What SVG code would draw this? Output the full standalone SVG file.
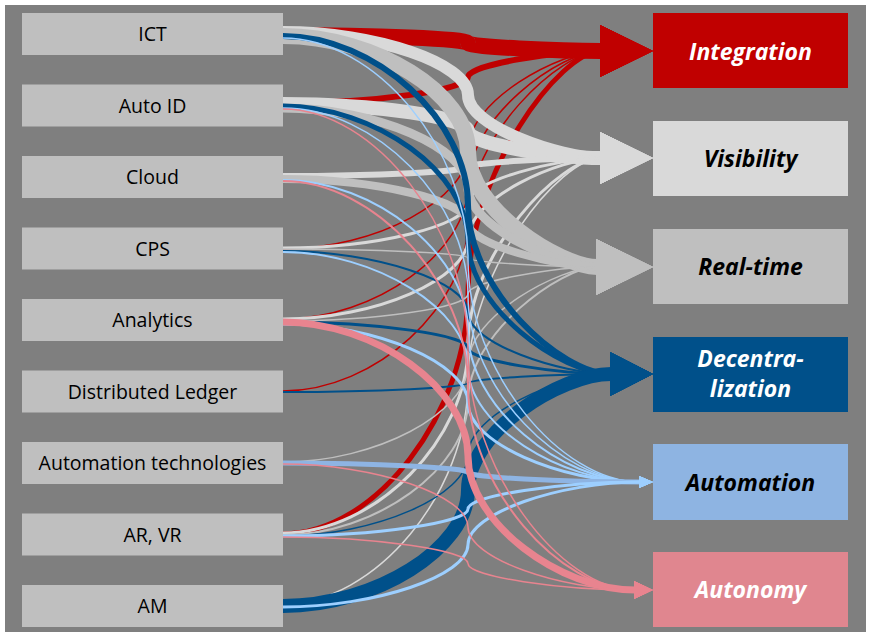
<svg xmlns="http://www.w3.org/2000/svg" width="871" height="636" viewBox="0 0 871 636">
<style>
.src rect{fill:#BFBFBF}
.src text{font-family:"Open Sans","Liberation Sans",sans-serif;font-size:19.5px;fill:#000;text-anchor:middle}
.tgt text{font-family:"Open Sans","Liberation Sans",sans-serif;font-size:23px;font-weight:bold;font-style:italic;text-anchor:middle}
#connectors path{fill:none}
.cI{stroke:#C00000;marker-end:url(#mI)}
.cV{stroke:#D9D9D9;marker-end:url(#mV)}
.cR{stroke:#BFBFBF;marker-end:url(#mR)}
.cD{stroke:#00508A;marker-end:url(#mD)}
.cA{stroke:#9DCFFF;marker-end:url(#mA)}
.cN{stroke:#E8848F;marker-end:url(#mN)}
</style>
<defs>
<marker id="mI" markerUnits="userSpaceOnUse" markerWidth="53" markerHeight="52" refX="1" refY="26" orient="auto"><path d="M0,0 L53,26 L0,52 z" fill="#C00000"/></marker>
<marker id="mV" markerUnits="userSpaceOnUse" markerWidth="53" markerHeight="52" refX="1" refY="26" orient="auto"><path d="M0,0 L53,26 L0,52 z" fill="#D9D9D9"/></marker>
<marker id="mR" markerUnits="userSpaceOnUse" markerWidth="57" markerHeight="56" refX="1" refY="28" orient="auto"><path d="M0,0 L57,28 L0,56 z" fill="#BFBFBF"/></marker>
<marker id="mD" markerUnits="userSpaceOnUse" markerWidth="43" markerHeight="44" refX="1" refY="22" orient="auto"><path d="M0,0 L43,22 L0,44 z" fill="#00508A"/></marker>
<marker id="mA" markerUnits="userSpaceOnUse" markerWidth="14" markerHeight="12" refX="1" refY="6" orient="auto"><path d="M0,0 L14,6 L0,12 z" fill="#9DCFFF"/></marker>
<marker id="mN" markerUnits="userSpaceOnUse" markerWidth="19" markerHeight="18" refX="1" refY="9" orient="auto"><path d="M0,0 L19,9 L0,18 z" fill="#E8848F"/></marker>
</defs>
<rect x="0" y="0" width="871" height="636" fill="#FFFFFF"/>
<rect x="5" y="5" width="861" height="627" fill="#7F7F7F"/>

<g id="connectors">
<!-- Integration -->
<path class="cI" stroke-width="16" d="M283,35 C375.5,35 468,39 468,43 C468,47 560.5,51 601,51"/>
<path class="cI" stroke-width="6" d="M283,103 C375.5,103 468,90 468,77 C468,64 560.5,51 601,51"/>
<path class="cI" stroke-width="1.5" d="M283,249 C375.5,249 468,199.5 468,150 C468,100.5 560.5,51 601,51"/>
<path class="cI" stroke-width="1.5" d="M283,319 C375.5,319 468,252 468,185 C468,118 560.5,51 601,51"/>
<path class="cI" stroke-width="1.5" d="M283,391 C375.5,391 468,306 468,221 C468,136 560.5,51 601,51"/>
<path class="cI" stroke-width="5" d="M283,534 C375.5,534 468,413.25 468,292.5 C468,171.75 560.5,51 601,51"/>
<!-- Visibility -->
<path class="cV" stroke-width="12" d="M283,32 C375.5,32 468,63.5 468,95 C468,126.5 560.5,158 601,158"/>
<path class="cV" stroke-width="14" d="M283,104 C375.5,104 468,117.5 468,131 C468,144.5 560.5,158 601,158"/>
<path class="cV" stroke-width="6" d="M283,176 C375.5,176 468,171.5 468,167 C468,162.5 560.5,158 601,158"/>
<path class="cV" stroke-width="3" d="M283,248 C375.5,248 468,225.5 468,203 C468,180.5 560.5,158 601,158"/>
<path class="cV" stroke-width="3" d="M283,319 C375.5,319 468,278.75 468,238.5 C468,198.25 560.5,158 601,158"/>
<path class="cV" stroke-width="3" d="M283,533 C375.5,533 468,439.25 468,345.5 C468,251.75 560.5,158 601,158"/>
<path class="cV" stroke-width="1.5" d="M283,604 C375.5,604 468,492.5 468,381 C468,269.5 560.5,158 601,158"/>
<!-- Real-time -->
<path class="cR" stroke-width="16" d="M283,36 C375.5,36 468,93.75 468,151.5 C468,209.25 560.5,267 597,267"/>
<path class="cR" stroke-width="9" d="M283,108 C375.5,108 468,147.75 468,187.5 C468,227.25 560.5,267 597,267"/>
<path class="cR" stroke-width="8" d="M283,179 C375.5,179 468,201 468,223 C468,245 560.5,267 597,267"/>
<path class="cR" stroke-width="1.5" d="M283,249 C375.5,249 468,253.5 468,258 C468,262.5 560.5,267 597,267"/>
<path class="cR" stroke-width="1.5" d="M283,321 C375.5,321 468,307.5 468,294 C468,280.5 560.5,267 597,267"/>
<path class="cR" stroke-width="1.5" d="M283,462 C375.5,462 468,413.25 468,364.5 C468,315.75 560.5,267 597,267"/>
<path class="cR" stroke-width="2" d="M283,535 C375.5,535 468,468 468,401 C468,334 560.5,267 597,267"/>
<!-- Decentralization -->
<path class="cD" stroke-width="6" d="M283,36 C375.5,36 468,120.5 468,205 C468,289.5 560.5,374 611,374"/>
<path class="cD" stroke-width="5" d="M283,106 C375.5,106 468,173 468,240 C468,307 560.5,374 611,374"/>
<path class="cD" stroke-width="2" d="M283,251 C375.5,251 468,281.75 468,312.5 C468,343.25 560.5,374 611,374"/>
<path class="cD" stroke-width="3" d="M283,322 C375.5,322 468,335 468,348 C468,361 560.5,374 611,374"/>
<path class="cD" stroke-width="2" d="M283,392 C375.5,392 468,387.5 468,383 C468,378.5 560.5,374 611,374"/>
<path class="cD" stroke-width="1.5" d="M283,536 C375.5,536 468,495.5 468,455 C468,414.5 560.5,374 611,374"/>
<path class="cD" stroke-width="14" d="M283,606 C375.5,606 468,548 468,490 C468,432 560.5,374 611,374"/>
<!-- Automation -->
<path class="cA" stroke-width="1.5" d="M283,38 C375.5,38 468,149 468,260 C468,371 560.5,482 640,482"/>
<path class="cA" stroke-width="1.5" d="M283,108 C375.5,108 468,201.5 468,295 C468,388.5 560.5,482 640,482"/>
<path class="cA" stroke-width="2" d="M283,180 C375.5,180 468,255.5 468,331 C468,406.5 560.5,482 640,482"/>
<path class="cA" stroke-width="2" d="M283,252 C375.5,252 468,309.5 468,367 C468,424.5 560.5,482 640,482"/>
<path class="cA" stroke-width="3" d="M283,324 C375.5,324 468,363.5 468,403 C468,442.5 560.5,482 640,482"/>
<path class="cA" stroke-width="5" style="stroke:#8EB4E3" d="M283,463 C375.5,463 468,467.75 468,472.5 C468,477.25 560.5,482 640,482"/>
<path class="cA" stroke-width="3" d="M283,536 C375.5,536 468,522.5 468,509 C468,495.5 560.5,482 640,482"/>
<path class="cA" stroke-width="3" d="M283,607 C375.5,607 468,575.75 468,544.5 C468,513.25 560.5,482 640,482"/>
<!-- Autonomy -->
<path class="cN" stroke-width="1.5" d="M283,109 C375.5,109 468,229.25 468,349.5 C468,469.75 560.5,590 635,590"/>
<path class="cN" stroke-width="2" d="M283,181 C375.5,181 468,283.25 468,385.5 C468,487.75 560.5,590 635,590"/>
<path class="cN" stroke-width="7" d="M283,322 C375.5,322 468,389 468,456 C468,523 560.5,590 635,590"/>
<path class="cN" stroke-width="1.5" d="M283,464 C375.5,464 468,495.5 468,527 C468,558.5 560.5,590 635,590"/>
<path class="cN" stroke-width="1.5" d="M283,537 C375.5,537 468,550.25 468,563.5 C468,576.75 560.5,590 635,590"/>
</g>

<g id="src-ict" class="src"><rect x="22" y="13" width="261" height="42"/><text x="152.5" y="41">ICT</text></g>
<g id="src-autoid" class="src"><rect x="22" y="84.5" width="261" height="42"/><text x="152.5" y="112.5">Auto ID</text></g>
<g id="src-cloud" class="src"><rect x="22" y="156" width="261" height="42"/><text x="152.5" y="184">Cloud</text></g>
<g id="src-cps" class="src"><rect x="22" y="227.5" width="261" height="42"/><text x="152.5" y="255.5">CPS</text></g>
<g id="src-analytics" class="src"><rect x="22" y="299" width="261" height="42"/><text x="152.5" y="327">Analytics</text></g>
<g id="src-dl" class="src"><rect x="22" y="370.5" width="261" height="42"/><text x="152.5" y="398.5">Distributed Ledger</text></g>
<g id="src-at" class="src"><rect x="22" y="442" width="261" height="42"/><text x="152.5" y="470">Automation technologies</text></g>
<g id="src-arvr" class="src"><rect x="22" y="513.5" width="261" height="42"/><text x="152.5" y="541.5">AR, VR</text></g>
<g id="src-am" class="src"><rect x="22" y="585" width="261" height="42"/><text x="152.5" y="613">AM</text></g>

<g id="tgt-integration" class="tgt"><rect x="653" y="13" width="195" height="75" fill="#C00000"/><text x="750.5" y="59.5" fill="#FFFFFF">Integration</text></g>
<g id="tgt-visibility" class="tgt"><rect x="653" y="121" width="195" height="75" fill="#D9D9D9"/><text x="750.5" y="167" fill="#000000">Visibility</text></g>
<g id="tgt-realtime" class="tgt"><rect x="653" y="229" width="195" height="75" fill="#BFBFBF"/><text x="750.5" y="275" fill="#000000">Real-time</text></g>
<g id="tgt-decentralization" class="tgt"><rect x="653" y="337" width="195" height="75" fill="#00508A"/><text x="750.5" y="367" fill="#FFFFFF">Decentra-</text><text x="750.5" y="397" fill="#FFFFFF">lization</text></g>
<g id="tgt-automation" class="tgt"><rect x="653" y="444" width="195" height="76" fill="#8EB4E2"/><text x="750.5" y="491" fill="#000000">Automation</text></g>
<g id="tgt-autonomy" class="tgt"><rect x="653" y="552" width="195" height="75" fill="#E0868F"/><text x="750.5" y="598" fill="#FFFFFF">Autonomy</text></g>
</svg>
